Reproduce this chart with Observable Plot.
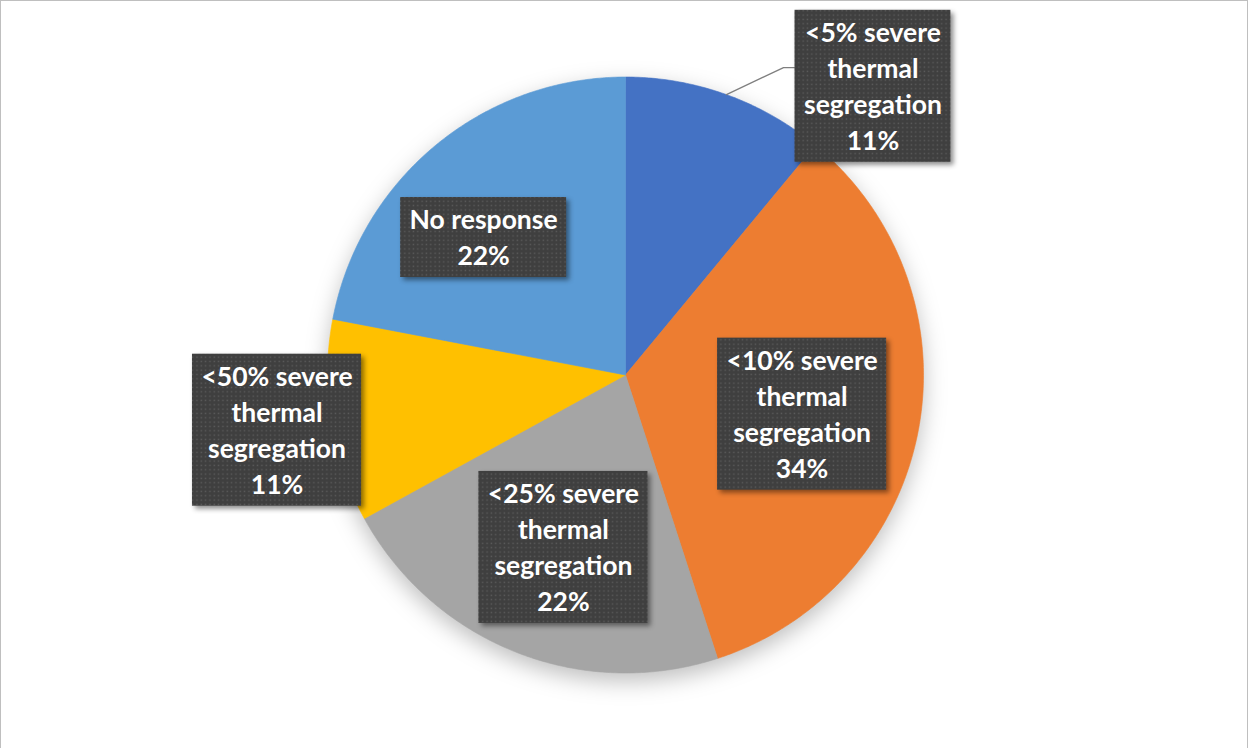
<!DOCTYPE html>
<html>
<head>
<meta charset="utf-8">
<script src="https://cdn.jsdelivr.net/npm/d3@7"></script>
<script src="https://cdn.jsdelivr.net/npm/@observablehq/plot@0.6"></script>
<style>
  html, body { margin: 0; padding: 0; background: #fff; overflow: hidden; }
  #chart { position: relative; width: 1249px; height: 748px; }
  #chart svg { position: absolute; left: 0; top: 0; }
  #frame { position: absolute; left: 0; top: 0; width: 1248px; height: 800px;
           border: 1px solid #bfbfbf; box-sizing: border-box; pointer-events: none; }
</style>
</head>
<body>
<div id="chart"><div id="frame"></div></div>
<script>
// Survey answers: share of respondents per category (percent)
const categories = [
  "<5% severe thermal segregation",
  "<10% severe thermal segregation",
  "<25% severe thermal segregation",
  "<50% severe thermal segregation",
  "No response"
];
const shares = [11, 34, 22, 11, 22];
const colors = ["#4472C4", "#ED7D31", "#A5A5A5", "#FFC000", "#5B9BD5"];

// Label placement per slice: angle shift from the slice's mid-angle (degrees),
// distance from the centre (in radii), optional leader elbow [shift, radius]
const labelPlacement = [
  {shift: 20.8, r: 1.276, elbow: [7.4, 1.16]},
  {shift: 1.7,  r: 0.607},
  {shift: -1.8, r: 0.615},
  {shift: 0,    r: 1.184},
  {shift: -6.3, r: 0.663}
];

const fontSize = 26.5;
const lineHeightPx = 36;
const padX = 9, padY = 4;
const fontFamily = "Lato, 'Open Sans', sans-serif";

const xRange = [327, 923];
const yRange = [672.5, 76.5];
const pxPerUnit = (xRange[1] - xRange[0]) / 2;

const arcs = d3.pie().sort(null).value(d => d)(shares);
const rad = Math.PI / 180;

// Slice outlines as closed polygons in unit-circle coordinates
const slicePoints = arcs.flatMap((a, i) => {
  const cat = categories[i];
  const steps = Math.max(2, Math.ceil((a.endAngle - a.startAngle) / (0.5 * rad)));
  const pts = [{category: cat, x: 0, y: 0}];
  for (let k = 0; k <= steps; k++) {
    const t = a.startAngle + (a.endAngle - a.startAngle) * k / steps;
    pts.push({category: cat, x: Math.sin(t), y: Math.cos(t)});
  }
  pts.push({category: cat, x: 0, y: 0});
  return pts;
});

// Greedy word wrap at 11 characters per line
function wrap(s, max = 11) {
  const lines = [];
  let cur = "";
  for (const w of s.split(" ")) {
    if (cur && (cur + " " + w).length > max) { lines.push(cur); cur = w; }
    else cur = cur ? cur + " " + w : w;
  }
  if (cur) lines.push(cur);
  return lines;
}

const ctx = document.createElement("canvas").getContext("2d");
ctx.font = `bold ${fontSize}px ${fontFamily}`;

const labels = arcs.map((a, i) => {
  const p = labelPlacement[i];
  const lines = [...wrap(categories[i]), `${shares[i]}%`];
  const ang = (a.startAngle + a.endAngle) / 2 + p.shift * rad;
  const w = d3.max(lines, l => ctx.measureText(l).width);
  return {
    category: categories[i],
    text: lines.join("\n"),
    x: p.r * Math.sin(ang),
    y: p.r * Math.cos(ang),
    hw: (w + 2 * padX) / 2 / pxPerUnit,
    hh: (lines.length * lineHeightPx + 2 * padY) / 2 / pxPerUnit
  };
});

// Leader lines for labels placed outside the pie
const leaderPoints = arcs.flatMap((a, i) => {
  const p = labelPlacement[i];
  if (!p.elbow) return [];
  const mid = (a.startAngle + a.endAngle) / 2;
  const e = mid + p.elbow[0] * rad;
  const ey = p.elbow[1] * Math.cos(e);
  return [
    {id: i, x: Math.sin(mid), y: Math.cos(mid)},
    {id: i, x: p.elbow[1] * Math.sin(e), y: ey},
    {id: i, x: labels[i].x, y: ey}
  ];
});

function defs() {
  const d = document.createElementNS("http://www.w3.org/2000/svg", "defs");
  d.innerHTML = `
    <pattern id="dots" width="4.33" height="4.33" patternUnits="userSpaceOnUse">
      <rect width="4.33" height="4.33" fill="#3f3f3f"></rect>
      <rect x="1.4" y="1.4" width="1.4" height="1.4" fill="#5c5c5c"></rect>
    </pattern>`;
  return d;
}

const plot = Plot.plot({
  width: 1249,
  height: 748,
  margin: 0,
  style: {background: "transparent", overflow: "visible"},
  x: {domain: [-1, 1], range: xRange, axis: null},
  y: {domain: [-1, 1], range: yRange, axis: null},
  color: {domain: categories, range: colors},
  marks: [
    defs,
    Plot.line(slicePoints, {
      x: "x", y: "y", z: "category",
      fill: "category", stroke: "category", strokeWidth: 0.6,
      imageFilter: "drop-shadow(0px 8px 11px rgba(0,0,0,0.25))"
    }),
    Plot.line(leaderPoints, {x: "x", y: "y", z: "id", stroke: "#7f7f7f", strokeWidth: 1.3}),
    Plot.rect(labels, {
      x1: d => d.x - d.hw, x2: d => d.x + d.hw,
      y1: d => d.y - d.hh, y2: d => d.y + d.hh,
      fill: "url(#dots)",
      imageFilter: "drop-shadow(3px 3px 2.5px rgba(0,0,0,0.45))"
    }),
    Plot.text(labels, {
      x: "x", y: "y", text: "text",
      fill: "white", fontSize, fontWeight: "bold", fontFamily,
      lineHeight: lineHeightPx / fontSize, lineAnchor: "middle",
      dy: -2
    })
  ]
});

document.getElementById("chart").prepend(plot);
</script>
</body>
</html>
